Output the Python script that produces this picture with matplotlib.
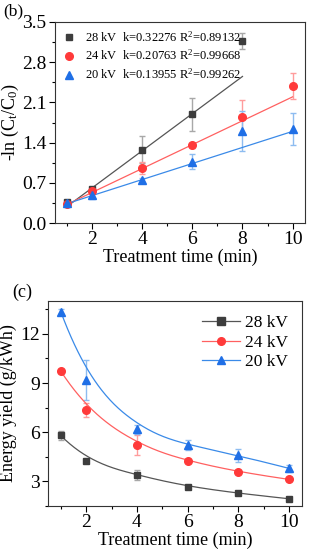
import numpy as np
import matplotlib
matplotlib.use("Agg")
import matplotlib.pyplot as plt
from matplotlib.ticker import MultipleLocator

plt.rcParams['font.family'] = ['Liberation Serif', 'DejaVu Serif']
plt.rcParams['mathtext.fontset'] = 'custom'
plt.rcParams['mathtext.rm'] = 'Liberation Serif'
plt.rcParams['mathtext.it'] = 'Liberation Serif'

# panel (b): kinetics
time_b28 = [1, 2, 4, 6, 8]
time_b = [1, 2, 4, 6, 8, 10]
ln28 = [0.37, 0.59, 1.28, 1.89, 3.17]
ln28_err = [0.03, 0.03, 0.23, 0.28, 0.14]
ln24 = [0.33, 0.55, 0.96, 1.35, 1.85, 2.39]
ln24_err = [0.03, 0.04, 0.1, 0.05, 0.3, 0.23]
ln20 = [0.345, 0.49, 0.75, 1.07, 1.6, 1.63]
ln20_err = [0.04, 0.07, 0.04, 0.13, 0.35, 0.28]
k_vals = [0.32276, 0.20763, 0.13955]
r2_vals = [0.89132, 0.99668, 0.99262]
intercepts = [-0.03, 0.12, 0.2]

# panel (c): energy yield
time_c = [1, 2, 4, 6, 8, 10]
ey28 = [5.8, 4.24, 3.38, 2.68, 2.27, 1.94]
ey28_err = [0.3, 0.1, 0.3, 0.1, 0.1, 0.08]
ey24 = [9.73, 7.35, 5.2, 4.24, 3.57, 3.12]
ey24_err = [0.1, 0.45, 0.6, 0.12, 0.12, 0.1]
ey20 = [13.36, 9.18, 6.17, 5.2, 4.59, 3.79]
ey20_err = [0.15, 1.2, 0.25, 0.3, 0.4, 0.2]

labels = ['28 kV', '24 kV', '20 kV']
mcol = ['#3d3d3d', '#ff3a3a', '#1f6fe6']
lcol = ['#555555', '#ff6060', '#3a8ae8']
ecol = ['#a8a8a8', '#ff9c9c', '#8dbcf0']
marks = ['s', 'o', '^']


def bspline(xs, ys, n=200):
    # clamped cubic B-spline with the data points as control points
    p = 3
    m = len(xs)
    inner = np.linspace(0, 1, m - p + 1)
    knots = np.concatenate([[0] * p, inner, [1] * p])
    t = np.linspace(0, 1, n)
    t[-1] = 1 - 1e-9
    N = np.zeros((n, len(knots) - 1))
    for i in range(len(knots) - 1):
        N[:, i] = (t >= knots[i]) & (t < knots[i + 1])
    for d in range(1, p + 1):
        Nn = np.zeros((n, len(knots) - 1 - d))
        for i in range(len(knots) - 1 - d):
            a = knots[i + d] - knots[i]
            b = knots[i + d + 1] - knots[i + 1]
            term = 0
            if a > 0:
                term = term + (t - knots[i]) / a * N[:, i]
            if b > 0:
                term = term + (knots[i + d + 1] - t) / b * N[:, i + 1]
            Nn[:, i] = term
        N = Nn
    return N @ np.array(xs, float), N @ np.array(ys, float)


fig = plt.figure(figsize=(3.1, 5.5), dpi=100)

# ---- top panel
ax1 = fig.add_axes([0.177, 0.5945, 0.807, 0.3655])
series_b = [(time_b28, ln28, ln28_err), (time_b, ln24, ln24_err), (time_b, ln20, ln20_err)]
for i, (xs, ys, es) in enumerate(series_b):
    ax1.errorbar(xs, ys, yerr=es, fmt='none', ecolor=ecol[i], elinewidth=1, capsize=2.5, zorder=2)
    xl = np.array([xs[0], xs[-1]])
    ax1.plot(xl, k_vals[i] * xl + intercepts[i], color=lcol[i], lw=0.9, zorder=3)
    ax1.plot(xs, ys, marks[i], color=mcol[i], ms=5.5 if marks[i] != 's' else 5, zorder=4,
             label=f'{labels[i]}  k={k_vals[i]} R$^2$={r2_vals[i]}')
ax1.set_xlim(0.5, 10.5)
ax1.set_ylim(0, 3.5)
ax1.xaxis.set_major_locator(MultipleLocator(2))
ax1.xaxis.set_minor_locator(MultipleLocator(1))
ax1.yaxis.set_major_locator(MultipleLocator(0.7))
ax1.yaxis.set_minor_locator(MultipleLocator(0.35))
ax1.set_xticks([2, 4, 6, 8, 10])
ax1.tick_params(labelsize=14, length=4, width=0.8, pad=2)
ax1.tick_params(which='minor', length=2.5, width=0.8)
ax1.set_xlabel('Treatment time (min)', fontsize=13, labelpad=0)
ax1.set_ylabel('-ln (C$_t$/C$_0$)', fontsize=13, labelpad=1)
ax1.legend(loc='upper left', fontsize=9, frameon=False, handlelength=1.0,
           handletextpad=0.8, labelspacing=0.35, borderaxespad=0.2)
for s in ax1.spines.values():
    s.set_color('#333333')
fig.text(0.012, 0.972, '(b)', fontsize=12.5)

# ---- bottom panel
ax2 = fig.add_axes([0.155, 0.08, 0.819, 0.3727])
series_c = [(ey28, ey28_err), (ey24, ey24_err), (ey20, ey20_err)]
for i, (ys, es) in enumerate(series_c):
    ax2.errorbar(time_c, ys, yerr=es, fmt='none', ecolor=ecol[i], elinewidth=1, capsize=2.5, zorder=2)
    bx, by = bspline(time_c, ys)
    ax2.plot(bx, by, color=lcol[i], lw=0.9, zorder=3)
    ax2.plot(time_c, ys, marks[i], color=mcol[i], ms=5.5 if marks[i] != 's' else 5, zorder=4)
    ax2.plot([], [], marks[i] + '-', color=lcol[i], mfc=mcol[i], mec=mcol[i], lw=0.9, ms=5.5,
             label=labels[i])
ax2.set_xlim(0.5, 10.5)
ax2.set_ylim(1.5, 14)
ax2.set_xticks([2, 4, 6, 8, 10])
ax2.xaxis.set_minor_locator(MultipleLocator(1))
ax2.yaxis.set_major_locator(MultipleLocator(3))
ax2.yaxis.set_minor_locator(MultipleLocator(1.5))
ax2.tick_params(labelsize=14, length=4, width=0.8, pad=2)
ax2.tick_params(which='minor', length=2.5, width=0.8)
ax2.set_xlabel('Treatment time (min)', fontsize=13, labelpad=0)
ax2.set_ylabel('Energy yield (g/kWh)', fontsize=13, labelpad=2)
ax2.legend(loc='upper right', fontsize=12.5, frameon=False, handlelength=2.2,
           handletextpad=0.3, labelspacing=0.2, borderaxespad=0.4)
for s in ax2.spines.values():
    s.set_color('#333333')
fig.text(0.04, 0.46, '(c)', fontsize=13)

fig.savefig('out.png', dpi=100)
